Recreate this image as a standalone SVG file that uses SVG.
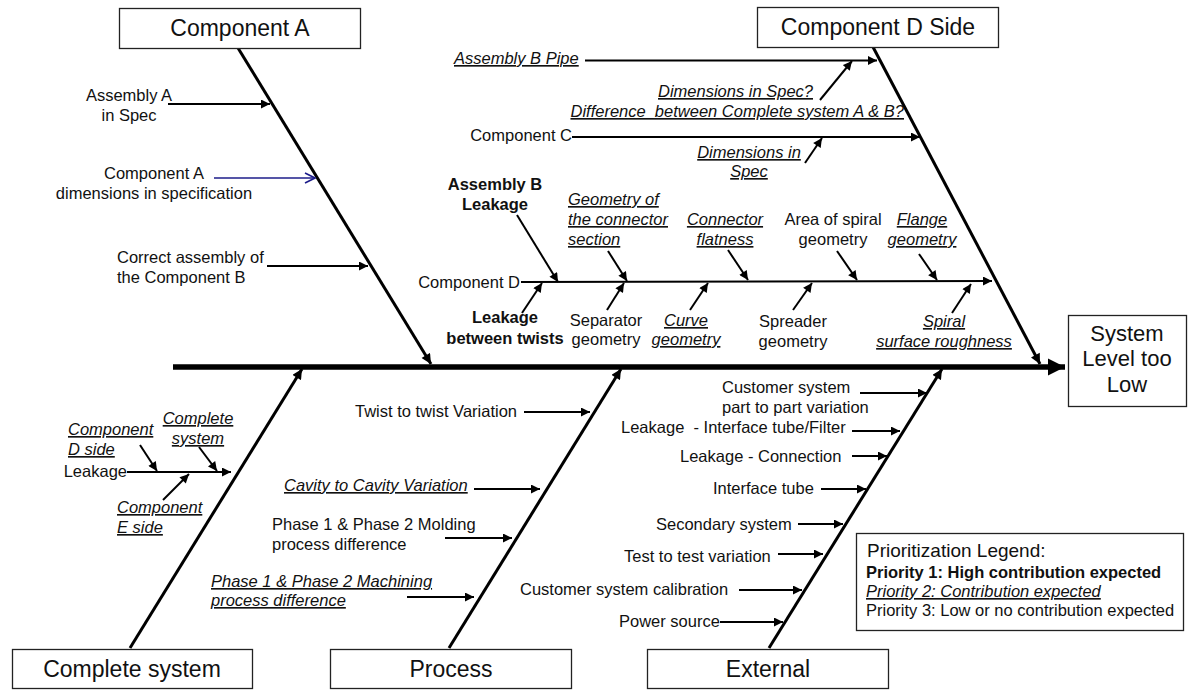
<svg xmlns="http://www.w3.org/2000/svg" width="1189" height="690" viewBox="0 0 1189 690">
<defs>
<style>
.t{font-family:"Liberation Sans",Arial,sans-serif;font-size:16.5px;fill:#111}
.m{text-anchor:middle}
.e{text-anchor:end}
.i{font-style:italic;text-decoration:underline}
.b{font-weight:bold}
.h{font-size:23px}
.box{fill:#fff;stroke:#222;stroke-width:1.3}
.br{stroke:#000;stroke-width:2;fill:none;marker-end:url(#ah)}
.bone{stroke:#000;stroke-width:3;fill:none;marker-end:url(#ahb)}
</style>
<marker id="ah" viewBox="0 0 10 10" refX="10" refY="5" markerWidth="10" markerHeight="9" orient="auto" markerUnits="userSpaceOnUse"><path d="M0,0 L10,5 L0,10 z" fill="#000"/></marker>
<marker id="ahb" viewBox="0 0 10 10" refX="10" refY="5" markerWidth="11" markerHeight="10" orient="auto" markerUnits="userSpaceOnUse"><path d="M0,0 L10,5 L0,10 z" fill="#000"/></marker>
<marker id="ahs" viewBox="0 0 10 10" refX="10" refY="5" markerWidth="17" markerHeight="18" orient="auto" markerUnits="userSpaceOnUse"><path d="M0,0 L10,5 L0,10 z" fill="#000"/></marker>
<marker id="aho" viewBox="0 0 12 12" refX="11" refY="6" markerWidth="12" markerHeight="12" orient="auto" markerUnits="userSpaceOnUse"><path d="M1,1 L11,6 L1,11" fill="none" stroke="#1c1c8a" stroke-width="1.6"/></marker>
</defs>
<rect width="1189" height="690" fill="#fff"/>

<g id="connectors">
<line x1="173" y1="367" x2="1065" y2="367" stroke="#000" stroke-width="5.5" marker-end="url(#ahs)"/>
<line class="bone" x1="238" y1="48" x2="431" y2="364"/>
<line class="bone" x1="873" y1="47" x2="1040" y2="364"/>
<line class="bone" x1="130" y1="648" x2="302" y2="369"/>
<line class="bone" x1="449" y1="648" x2="621" y2="369"/>
<line class="bone" x1="769" y1="648" x2="942" y2="369"/>
<line class="br" x1="168" y1="104" x2="270" y2="104"/>
<line x1="214" y1="178" x2="315" y2="178" stroke="#1c1c8a" stroke-width="1.6" marker-end="url(#aho)"/>
<line class="br" x1="267" y1="266" x2="368" y2="266"/>
<line class="br" x1="585" y1="60.5" x2="877" y2="60.5"/>
<line class="br" x1="820" y1="100" x2="852" y2="61"/>
<line class="br" x1="572" y1="137" x2="920" y2="137"/>
<line class="br" x1="805" y1="163" x2="822" y2="138"/>
<line class="br" x1="521" y1="282" x2="992" y2="281"/>
<line class="br" x1="517" y1="215" x2="558" y2="282"/>
<line class="br" x1="522" y1="313" x2="542" y2="283"/>
<line class="br" x1="608" y1="251" x2="627" y2="281"/>
<line class="br" x1="607" y1="310" x2="624" y2="283"/>
<line class="br" x1="690" y1="310" x2="708" y2="283"/>
<line class="br" x1="728" y1="250" x2="748" y2="280"/>
<line class="br" x1="837" y1="251" x2="857" y2="280"/>
<line class="br" x1="793" y1="310" x2="812" y2="283"/>
<line class="br" x1="919" y1="254" x2="937" y2="280"/>
<line class="br" x1="952" y1="313" x2="971" y2="284"/>
<line class="br" x1="127" y1="472" x2="231" y2="472"/>
<line class="br" x1="140" y1="445" x2="157" y2="471"/>
<line class="br" x1="199" y1="447" x2="217" y2="471"/>
<line class="br" x1="163" y1="500" x2="189" y2="474"/>
<line class="br" x1="524" y1="412" x2="590" y2="412"/>
<line class="br" x1="474" y1="489" x2="540" y2="489"/>
<line class="br" x1="445" y1="538" x2="512" y2="538"/>
<line class="br" x1="407" y1="597" x2="474" y2="597"/>
<line class="br" x1="860" y1="393" x2="927" y2="393"/>
<line class="br" x1="852" y1="431" x2="900" y2="431"/>
<line class="br" x1="852" y1="456" x2="887" y2="456"/>
<line class="br" x1="821" y1="489" x2="866" y2="489"/>
<line class="br" x1="798" y1="524" x2="843" y2="524"/>
<line class="br" x1="778" y1="554" x2="823" y2="554"/>
<line class="br" x1="739" y1="590" x2="802" y2="590"/>
<line class="br" x1="720" y1="622" x2="783" y2="622"/>
</g>

<g id="node-component-a">
<rect class="box" x="119.5" y="8.5" width="241" height="40"/>
<text class="t h m" x="240" y="36">Component A</text>
</g>
<g id="node-component-d-side">
<rect class="box" x="757.5" y="7.5" width="241" height="40"/>
<text class="t h m" x="878" y="35">Component D Side</text>
</g>
<g id="node-complete-system">
<rect class="box" x="12.5" y="649.5" width="240" height="39"/>
<text class="t h m" x="132" y="677">Complete system</text>
</g>
<g id="node-process">
<rect class="box" x="330.5" y="649.5" width="241" height="39"/>
<text class="t h m" x="451" y="677">Process</text>
</g>
<g id="node-external">
<rect class="box" x="647.5" y="649.5" width="241" height="39"/>
<text class="t h m" x="768" y="677">External</text>
</g>
<g id="node-system-level">
<rect class="box" x="1068.5" y="315.5" width="118" height="91"/>
<text class="t m" style="font-size:22px" x="1127" y="341">System</text>
<text class="t m" style="font-size:22px" x="1127" y="366">Level too</text>
<text class="t m" style="font-size:22px" x="1127" y="392">Low</text>
</g>

<g id="labels-component-a">
<text class="t m" x="129" y="101">Assembly A</text>
<text class="t m" x="129" y="121">in Spec</text>
<text class="t m" x="154" y="179">Component A</text>
<text class="t m" x="154" y="199">dimensions in specification</text>
<text class="t" x="117" y="263">Correct assembly of</text>
<text class="t" x="117" y="283">the Component B</text>
</g>

<g id="labels-component-d-side">
<text class="t i" x="454" y="64">Assembly B Pipe</text>
<text class="t i e" x="813" y="97">Dimensions in Spec?</text>
<text class="t i e" x="904" y="117" xml:space="preserve">Difference  between Complete system A &amp; B?</text>
<text class="t e" x="572" y="141">Component C</text>
<text class="t i m" x="749" y="158">Dimensions in</text>
<text class="t i m" x="749" y="177">Spec</text>
<text class="t b m" x="495" y="190">Assembly B</text>
<text class="t b m" x="495" y="210">Leakage</text>
<text class="t e" x="520" y="288">Component D</text>
<text class="t b m" x="505" y="323">Leakage</text>
<text class="t b m" x="505" y="344">between twists</text>
<text class="t i" x="568" y="205">Geometry of</text>
<text class="t i" x="568" y="225">the connector</text>
<text class="t i" x="568" y="245">section</text>
<text class="t m" x="606" y="326">Separator</text>
<text class="t m" x="606" y="345">geometry</text>
<text class="t i m" x="686" y="326">Curve</text>
<text class="t i m" x="686" y="345">geometry</text>
<text class="t i m" x="725" y="225">Connector</text>
<text class="t i m" x="725" y="245">flatness</text>
<text class="t m" x="833" y="225">Area of spiral</text>
<text class="t m" x="833" y="245">geometry</text>
<text class="t i m" x="922" y="225">Flange</text>
<text class="t i m" x="922" y="245">geometry</text>
<text class="t m" x="793" y="327">Spreader</text>
<text class="t m" x="793" y="347">geometry</text>
<text class="t i m" x="944" y="327">Spiral</text>
<text class="t i m" x="944" y="347">surface roughness</text>
</g>

<g id="labels-complete-system">
<text class="t e" x="127" y="477">Leakage</text>
<text class="t i" x="68" y="435">Component</text>
<text class="t i" x="68" y="455">D side</text>
<text class="t i m" x="198" y="424">Complete</text>
<text class="t i m" x="198" y="444">system</text>
<text class="t i" x="117" y="513">Component</text>
<text class="t i" x="117" y="533">E side</text>
</g>

<g id="labels-process">
<text class="t e" x="517" y="417">Twist to twist Variation</text>
<text class="t i" x="284" y="491">Cavity to Cavity Variation</text>
<text class="t" x="272" y="530">Phase 1 &amp; Phase 2 Molding</text>
<text class="t" x="272" y="550">process difference</text>
<text class="t i" x="211" y="587">Phase 1 &amp; Phase 2 Machining</text>
<text class="t i" x="211" y="606">process difference</text>
</g>

<g id="labels-external">
<text class="t" x="722" y="393">Customer system</text>
<text class="t" x="722" y="413">part to part variation</text>
<text class="t" x="621" y="433" xml:space="preserve">Leakage  - Interface tube/Filter</text>
<text class="t" x="680" y="462">Leakage - Connection</text>
<text class="t" x="713" y="494">Interface tube</text>
<text class="t" x="656" y="530">Secondary system</text>
<text class="t" x="624" y="562">Test to test variation</text>
<text class="t" x="520" y="595">Customer system calibration</text>
<text class="t" x="619" y="627">Power source</text>
</g>

<g id="node-legend">
<rect class="box" x="856.5" y="533.5" width="327" height="97"/>
<text class="t" style="font-size:19px" x="867" y="557">Prioritization Legend:</text>
<text class="t b" x="866" y="578">Priority 1: High contribution expected</text>
<text class="t i" x="866" y="597">Priority 2: Contribution expected</text>
<text class="t" x="866" y="616">Priority 3: Low or no contribution expected</text>
</g>
</svg>
